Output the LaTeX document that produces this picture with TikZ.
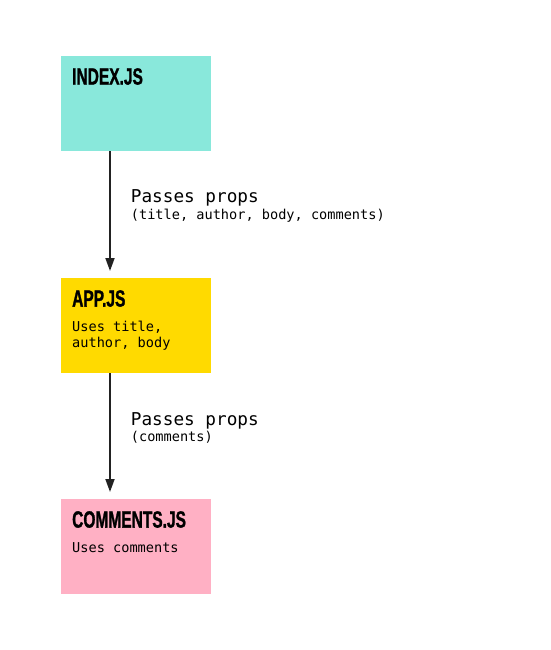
\documentclass[tikz,border=0pt]{standalone}
\usepackage{fontspec}
\setmonofont{DejaVu Sans Mono}
\newfontfamily\titlefont[FakeStretch=0.66,FakeBold=1.2]{Liberation Sans}
\usetikzlibrary{positioning,arrows.meta}
\definecolor{indexcol}{HTML}{89E8DB}
\definecolor{appcol}{HTML}{FFDA00}
\definecolor{commentscol}{HTML}{FFB0C4}
\definecolor{linecol}{HTML}{222222}
\begin{document}
\begin{tikzpicture}[x=1pt,y=-1pt,
    filebox/.style={minimum width=150pt, minimum height=95pt, inner sep=0pt, anchor=north west},
    filetitle/.style={anchor=north west, inner sep=0pt, align=left, font=\titlefont\bfseries\fontsize{23.5}{24}\selectfont},
    filenote/.style={anchor=north west, inner sep=0pt, align=left, font=\ttfamily\fontsize{13.6}{15.5}\selectfont},
    propsarrow/.style={draw=linecol, line width=1.8pt, -{Stealth[length=13pt, width=9pt, inset=0pt]}},
    propslabel/.style={anchor=west, inner sep=0pt, align=left, xshift=20pt}]
  \useasboundingbox (0,0) rectangle (550,650);

  % boxes
  \node[filebox, fill=indexcol] (index) at (61,56) {};
  \node[filebox, fill=appcol] (app) at (61,278) {};
  \node[filebox, fill=commentscol] (comments) at (61,499) {};

  % box texts
  \node[filetitle] (indextitle) at ([xshift=11pt, yshift=-12pt]index.north west) {INDEX.JS};
  \node[filetitle] (apptitle) at ([xshift=11pt, yshift=-12pt]app.north west) {APP.JS};
  \node[filenote, below=14pt of apptitle.south west, anchor=north west] (appnote) {Uses title,\\author, body};
  \node[filetitle] (commentstitle) at ([xshift=11pt, yshift=-12pt]comments.north west) {COMMENTS.JS};
  \node[filenote, below=14pt of commentstitle.south west, anchor=north west] (commentsnote) {Uses comments};

  % arrows
  \coordinate (indexout) at (110,151);
  \coordinate (appin) at (110,271);
  \coordinate (appout) at (110,373);
  \coordinate (commentsin) at (110,492);
  \draw[propsarrow] (indexout) -- (appin)
    node[propslabel, pos=0.46] (firstprops) {{\ttfamily\fontsize{17.7}{18}\selectfont Passes props}\\[1.5pt]{\ttfamily\fontsize{13.6}{14}\selectfont (title, author, body, comments)}};
  \draw[propsarrow] (appout) -- (commentsin)
    node[propslabel, pos=0.46] (secondprops) {{\ttfamily\fontsize{17.7}{18}\selectfont Passes props}\\[1.5pt]{\ttfamily\fontsize{13.6}{14}\selectfont (comments)}};
\end{tikzpicture}
\end{document}
